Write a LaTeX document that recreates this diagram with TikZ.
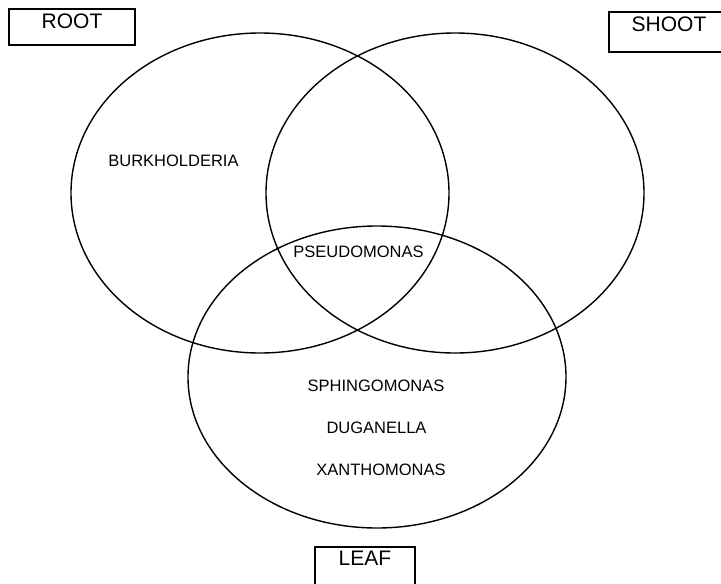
\documentclass[tikz,border=0pt]{standalone}
\usepackage{fontspec}
\setmainfont{Liberation Sans}
\begin{document}
\begin{tikzpicture}[x=1pt, y=-1pt, line width=1.3pt]
\tikzstyle{set}=[draw, line width=1.4pt]
\tikzstyle{tag}=[draw, line width=1.1pt, inner sep=0pt, font=\fontsize{21}{21}\selectfont]
\tikzstyle{genus}=[inner sep=0pt, font=\fontsize{16.5}{16.5}\selectfont]
  \clip (0,0) rectangle (721,584);
  % the three sets
  \draw[set] (260,193) ellipse [x radius=189, y radius=160];
  \draw[set] (455,193) ellipse [x radius=189, y radius=160];
  \draw[set] (377,377) ellipse [x radius=189, y radius=151];
  % set names
  \node[tag, minimum width=126, text height=19, text depth=17] (root) at (72,27) {ROOT};
  \node[tag, minimum width=120, text height=19, text depth=21] (shoot) at (669,32) {SHOOT};
  \node[tag, minimum width=100, text height=18, text depth=22] (leaf) at (365,567) {LEAF};
  % genera
  \foreach \place/\name/\txt in {{(173.5,161)/burk/BURKHOLDERIA},
                                 {(358.5,251.5)/pseudo/PSEUDOMONAS},
                                 {(376,386)/sphingo/SPHINGOMONAS},
                                 {(376.5,428)/duga/DUGANELLA},
                                 {(381,470)/xantho/XANTHOMONAS}}
    \node[genus] (\name) at \place {\txt};
\end{tikzpicture}
\end{document}
